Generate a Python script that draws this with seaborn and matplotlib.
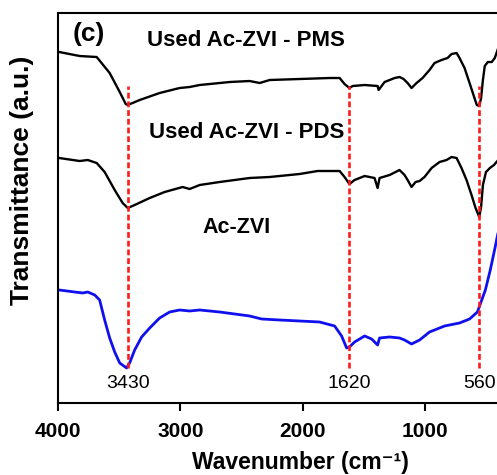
import numpy as np
import pandas as pd
import matplotlib
matplotlib.use("Agg")
import matplotlib.pyplot as plt
import seaborn as sns

# wavenumber (cm-1) / transmittance (a.u., spectra already offset)
pms_wn = [3990, 3823, 3684, 3578, 3496, 3447, 3430, 3333, 3170, 3007, 2925, 2843,
          2598, 2435, 2353, 2272, 2027, 1782, 1700, 1660, 1620, 1594, 1496, 1390,
          1382, 1333, 1251, 1211, 1178, 1145, 1113, 1072, 1023, 966, 925, 868, 819,
          786, 745, 721, 680, 639, 607, 580, 560, 545, 530, 515, 490, 458, 433, 405]
pms_t = [351, 347, 346, 330, 311, 299, 298, 303, 310, 315, 316, 318,
         321, 322, 320, 323, 324, 325, 325, 319, 315, 317, 318, 317,
         313, 321, 325, 326, 324, 320, 315, 320, 325, 333, 340, 343, 345,
         349, 350, 345, 335, 320, 308, 298, 297, 305, 323, 337, 341, 341, 345, 355]

pds_wn = [3990, 3823, 3757, 3684, 3619, 3537, 3472, 3430, 3374, 3251, 3129, 2982,
          2925, 2843, 2680, 2435, 2272, 2027, 1880, 1700, 1660, 1620, 1578, 1496,
          1415, 1390, 1374, 1292, 1211, 1170, 1145, 1113, 1080, 1047, 1007, 949,
          884, 827, 786, 745, 705, 664, 623, 590, 560, 545, 530, 505, 473, 440, 405]
pds_t = [245, 242, 243, 240, 231, 213, 200, 195, 198, 205, 211, 216,
         214, 218, 221, 225, 226, 229, 232, 232, 226, 219, 223, 227,
         225, 215, 225, 228, 233, 228, 223, 216, 221, 222, 226, 235,
         241, 243, 246, 245, 235, 223, 208, 195, 186, 196, 218, 231, 235, 238, 243]

zvi_wn = [3990, 3864, 3798, 3757, 3700, 3660, 3619, 3578, 3537, 3496, 3440, 3415,
          3374, 3317, 3251, 3170, 3088, 3007, 2925, 2843, 2680, 2435, 2337, 2190,
          2027, 1864, 1741, 1684, 1643, 1620, 1578, 1496, 1439, 1390, 1374, 1292,
          1211, 1170, 1113, 1047, 966, 843, 721, 639, 575, 510, 470, 435, 405]
zvi_t = [113, 111, 110, 111, 108, 103, 83, 65, 51, 40, 35, 40,
         53, 66, 75, 85, 91, 93, 92, 93, 91, 87, 84, 83,
         82, 81, 77, 67, 55, 56, 61, 67, 64, 58, 65, 66,
         65, 63, 59, 63, 71, 77, 80, 84, 91, 113, 133, 153, 171]

peaks = [3430, 1620, 560]
peak_labels = ["3430", "1620", "560"]

sns.set_style("ticks")
plt.rcParams["font.family"] = ["Liberation Sans", "DejaVu Sans"]
plt.rcParams["text.color"] = "black"
plt.rcParams["xtick.color"] = "black"

fig = plt.figure(figsize=(4.97, 4.75), dpi=100)
ax = fig.add_axes([0.1167, 0.1516, 0.887, 0.821])

sns.lineplot(x=pms_wn, y=pms_t, sort=False, color="black", linewidth=1.7, ax=ax)
sns.lineplot(x=pds_wn, y=pds_t, sort=False, color="black", linewidth=1.7, ax=ax)
sns.lineplot(x=zvi_wn, y=zvi_t, sort=False, color="#1010ee", linewidth=2.0, ax=ax)

ax.vlines(peaks, 35, 317, colors="#ff1a1a", linestyles=(0, (2.2, 1.1)), linewidth=1.9)
for wn, lab in zip(peaks, peak_labels):
    ax.text(wn, 19, lab, ha="center", va="center", fontsize=14, color="black")

ax.text(3745, 369, "(c)", ha="center", va="center", fontsize=19, fontweight="bold")
ax.text(2468, 363, "Used Ac-ZVI - PMS", ha="center", va="center", fontsize=16, fontweight="bold")
ax.text(2456, 271, "Used Ac-ZVI - PDS", ha="center", va="center", fontsize=16, fontweight="bold")
ax.text(2545, 176, "Ac-ZVI", ha="center", va="center", fontsize=15.5, fontweight="bold")

ax.set_xlim(4000, 400)
ax.set_ylim(0, 390)
ax.set_xticks([4000, 3000, 2000, 1000])
ax.set_yticks([])
ax.tick_params(axis="x", direction="out", length=6, width=1.5, labelsize=15, pad=8,
               colors="black")
for lbl in ax.get_xticklabels():
    lbl.set_fontweight("bold")
for sp in ax.spines.values():
    sp.set_linewidth(1.5)
    sp.set_color("black")
ax.spines["right"].set_visible(False)
ax.set_xlabel("")
ax.set_ylabel("")

fig.text(300 / 497, 1 - 463 / 475, "Wavenumber (cm⁻¹)", ha="center", va="center",
         fontsize=16.5, fontweight="bold")
fig.text(22 / 497, 1 - 180 / 475, "Transmittance (a.u.)", ha="center", va="center",
         rotation=90, fontsize=19, fontweight="bold")

fig.savefig("out.png", dpi=100)
plt.close(fig)
